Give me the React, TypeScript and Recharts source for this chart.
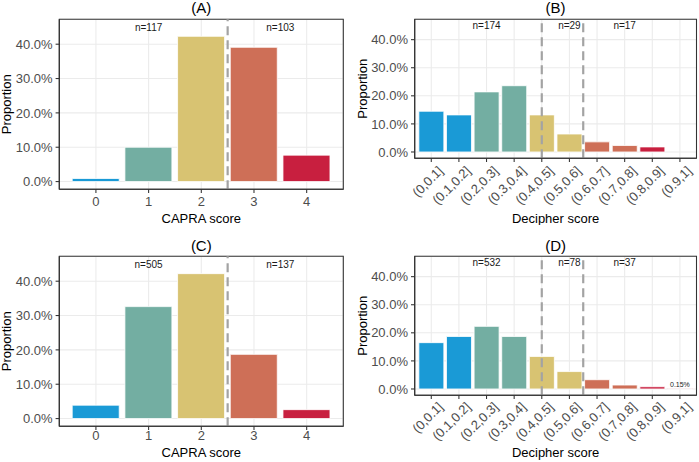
import React from "react";
import { BarChart, Bar, XAxis, YAxis, CartesianGrid, Cell, ReferenceLine, ReferenceDot, ReferenceArea } from "recharts";

const FONT = '"Liberation Sans", Arial, Helvetica, sans-serif';

const palette = ["#1A9AD6", "#73AEA2", "#D8C372", "#CE6F57", "#C81F3F"];

// CAPRA panels (A, C)
const capraScores = [0, 1, 2, 3, 4];
const capraTickLabels = ["0", "1", "2", "3", "4"];
const capraColorGroup = [0, 1, 2, 3, 4];
const capraPropA = [0.9, 10.0, 42.3, 39.1, 7.7];
const capraPropC = [3.9, 32.6, 42.2, 18.7, 2.6];
const capraCutoffs = [2.5];
const nLabelsA = [{ x: 1, text: "n=117" }, { x: 3.5, text: "n=103" }];
const nLabelsC = [{ x: 1, text: "n=505" }, { x: 3.5, text: "n=137" }];

// Decipher panels (B, D)
const decipherBins = ["(0,0.1]", "(0.1,0.2]", "(0.2,0.3]", "(0.3,0.4]", "(0.4,0.5]", "(0.5,0.6]", "(0.6,0.7]", "(0.7,0.8]", "(0.8,0.9]", "(0.9,1]"];
const decipherColorGroup = [0, 0, 1, 1, 2, 2, 3, 3, 4, 4];
const decipherPropB = [14.5, 13.2, 21.4, 23.6, 13.2, 6.4, 3.6, 2.3, 1.8, 0];
const decipherPropD = [16.5, 18.7, 22.3, 18.7, 11.6, 6.2, 3.3, 1.4, 0.8, 0.15];
const decipherCutoffs = [4, 5.5];
const nLabelsB = [{ x: 2, text: "n=174" }, { x: 5, text: "n=29" }, { x: 7, text: "n=17" }];
const nLabelsD = [{ x: 2, text: "n=532" }, { x: 5, text: "n=78" }, { x: 7, text: "n=37" }];
const smallLabelsD = [{ x: 9, y: 0.15, text: "0.15%" }];

const yTicks = [0, 10, 20, 30, 40];
const yMinorTicks = [5, 15, 25, 35, 45];
const yLimits = [0, 45];
const nLabelY = 45;

const expand = (lo: number, hi: number, f = 0.05) => [lo - (hi - lo) * f, hi + (hi - lo) * f];
const yDomain = expand(yLimits[0], yLimits[1]);

function RotTick(props: any) {
  const { x, y, payload, labels } = props;
  const ax = x + 6;
  const ay = y + 2;
  return (
    <text x={ax} y={ay} dy="0.72em" textAnchor="end" fontSize={13} fill="#4D4D4D" transform={`rotate(-45 ${ax} ${ay})`}>
      {labels[payload.value]}
    </text>
  );
}

type PanelProps = {
  left: number; top: number; width: number; height: number;
  plotLeft: number; plotRight: number; plotTop: number; plotBottom: number;
  title: string; xLabel: string; titleY: number; yLabX: number; xLabY: number; tickGap: number;
  positions: number[]; values: number[]; groups: number[];
  discrete: boolean; tickLabels: string[];
  cutoffs: number[]; nLabels: { x: number; text: string }[];
  smallLabels?: { x: number; y: number; text: string }[];
};

function Panel(p: PanelProps) {
  const data = p.positions.map((x, i) => ({ x, y: p.values[i], g: p.groups[i] }));
  const lo = Math.min(...p.positions), hi = Math.max(...p.positions);
  const xDomain = p.discrete ? [lo - 0.6, hi + 0.6] : expand(lo - 0.45, hi + 0.45);
  const minorX = p.discrete ? p.positions : [...p.positions.map((v) => v - 0.5), hi + 0.5];
  const yAxisWidth = p.plotLeft;
  const xAxisHeight = p.height - p.plotBottom;
  const margin = { top: p.plotTop, right: p.width - p.plotRight, bottom: 0, left: 0 };
  return (
    <div style={{ position: "absolute", left: p.left, top: p.top, width: p.width, height: p.height, fontFamily: FONT }}>
      <BarChart width={p.width} height={p.height} data={data} margin={margin} barCategoryGap="5%">
        <CartesianGrid xAxisId="minor" yAxisId="minor" stroke="#EBEBEB" strokeWidth={0.55} vertical={!p.discrete} />
        <CartesianGrid stroke="#EBEBEB" strokeWidth={1.07} />
        <XAxis
          dataKey="x" type="number" domain={xDomain} ticks={p.positions} allowDataOverflow interval={0}
          height={xAxisHeight} tickSize={3.7} tickMargin={p.tickGap}
          axisLine={{ stroke: "#333", strokeWidth: 1.07 }} tickLine={{ stroke: "#333", strokeWidth: 1.07 }}
          tick={p.discrete ? (tp: any) => <RotTick {...tp} labels={p.tickLabels} /> : { fill: "#4D4D4D", fontSize: 13 }}
          tickFormatter={(v: number) => p.tickLabels[v]}
          label={{ value: p.xLabel, position: "center", dy: p.xLabY - (p.plotBottom + xAxisHeight / 2), fontSize: 13, fill: "#000" }}
        />
        <XAxis
          xAxisId="minor" orientation="top" type="number" domain={xDomain} ticks={minorX} allowDataOverflow
          height={0} tick={false} tickLine={false} axisLine={false}
        />
        <YAxis
          type="number" domain={yDomain} ticks={yTicks} allowDataOverflow interval={0} width={yAxisWidth}
          tickSize={3.7} tickMargin={3}
          axisLine={{ stroke: "#333", strokeWidth: 1.07 }} tickLine={{ stroke: "#333", strokeWidth: 1.07 }}
          tick={{ fill: "#4D4D4D", fontSize: 13 }}
          tickFormatter={(v: number) => `${v.toFixed(1)}%`}
          label={{ value: "Proportion", angle: -90, position: "center", dx: p.yLabX - yAxisWidth / 2, fontSize: 13, fill: "#000" }}
        />
        <YAxis
          yAxisId="minor" orientation="right" type="number" domain={yDomain} ticks={yMinorTicks} allowDataOverflow
          width={0} tick={false} tickLine={false} axisLine={false}
        />
        <Bar dataKey="y" isAnimationActive={false} stroke="#FFFFFF" strokeWidth={0.8}>
          {data.map((d, i) => (
            <Cell key={i} fill={palette[d.g]} />
          ))}
        </Bar>
        {p.cutoffs.map((c, i) => (
          <ReferenceLine key={"c" + i} x={c} stroke="#A3A3A3" strokeWidth={2.2} strokeDasharray="9 5" />
        ))}
        {p.nLabels.map((n, i) => (
          <ReferenceDot key={"n" + i} x={n.x} y={nLabelY} r={0} fill="none" stroke="none"
            label={{ value: n.text, position: "center", fontSize: 10, fill: "#1A1A1A" }} />
        ))}
        {(p.smallLabels || []).map((n, i) => (
          <ReferenceDot key={"s" + i} x={n.x} y={n.y} r={0} fill="none" stroke="none"
            label={{ value: n.text, position: "top", offset: 1.5, fontSize: 7, fill: "#1A1A1A" }} />
        ))}
        <ReferenceArea x1={xDomain[0]} x2={xDomain[1]} y1={yDomain[0]} y2={yDomain[1]} ifOverflow="visible"
          fill="none" fillOpacity={0} stroke="#333333" strokeWidth={1.07} />
      </BarChart>
      <div style={{ position: "absolute", left: p.plotLeft, width: p.plotRight - p.plotLeft, top: p.titleY - 7.5, height: 15, lineHeight: "15px", textAlign: "center", fontSize: 15, color: "#000", whiteSpace: "nowrap" }}>
        {p.title}
      </div>
    </div>
  );
}

const topRow = 0;
const bottomRow = 237.4;
const capraLayout = { width: 349, height: 225, plotLeft: 59.3, plotRight: 343.3, plotTop: 19.3, plotBottom: 189.3, titleY: 7.8, yLabX: 6.7 };
const decipherLayout = { width: 350, height: 225, plotLeft: 65.7, plotRight: 347.5, plotTop: 19.3, plotBottom: 158.3, titleY: 7.8, yLabX: 13.3 };

export default function App() {
  const decipherPositions = decipherBins.map((_, i) => i);
  return (
    <div style={{ position: "absolute", left: 0, top: 0, width: 699, height: 462, background: "#fff", overflow: "hidden" }}>
      <Panel {...capraLayout} left={0} top={topRow} xLabY={218.3} tickGap={4} title="(A)" xLabel="CAPRA score"
        positions={capraScores} values={capraPropA} groups={capraColorGroup} discrete={false} tickLabels={capraTickLabels}
        cutoffs={capraCutoffs} nLabels={nLabelsA} />
      <Panel {...decipherLayout} left={349} top={topRow} xLabY={218.3} tickGap={1} title="(B)" xLabel="Decipher score"
        positions={decipherPositions} values={decipherPropB} groups={decipherColorGroup} discrete={true} tickLabels={decipherBins}
        cutoffs={decipherCutoffs} nLabels={nLabelsB} />
      <Panel {...capraLayout} left={0} top={bottomRow} xLabY={215} tickGap={1} title="(C)" xLabel="CAPRA score"
        positions={capraScores} values={capraPropC} groups={capraColorGroup} discrete={false} tickLabels={capraTickLabels}
        cutoffs={capraCutoffs} nLabels={nLabelsC} />
      <Panel {...decipherLayout} left={349} top={bottomRow} xLabY={215} tickGap={0} title="(D)" xLabel="Decipher score"
        positions={decipherPositions} values={decipherPropD} groups={decipherColorGroup} discrete={true} tickLabels={decipherBins}
        cutoffs={decipherCutoffs} nLabels={nLabelsD} smallLabels={smallLabelsD} />
    </div>
  );
}
